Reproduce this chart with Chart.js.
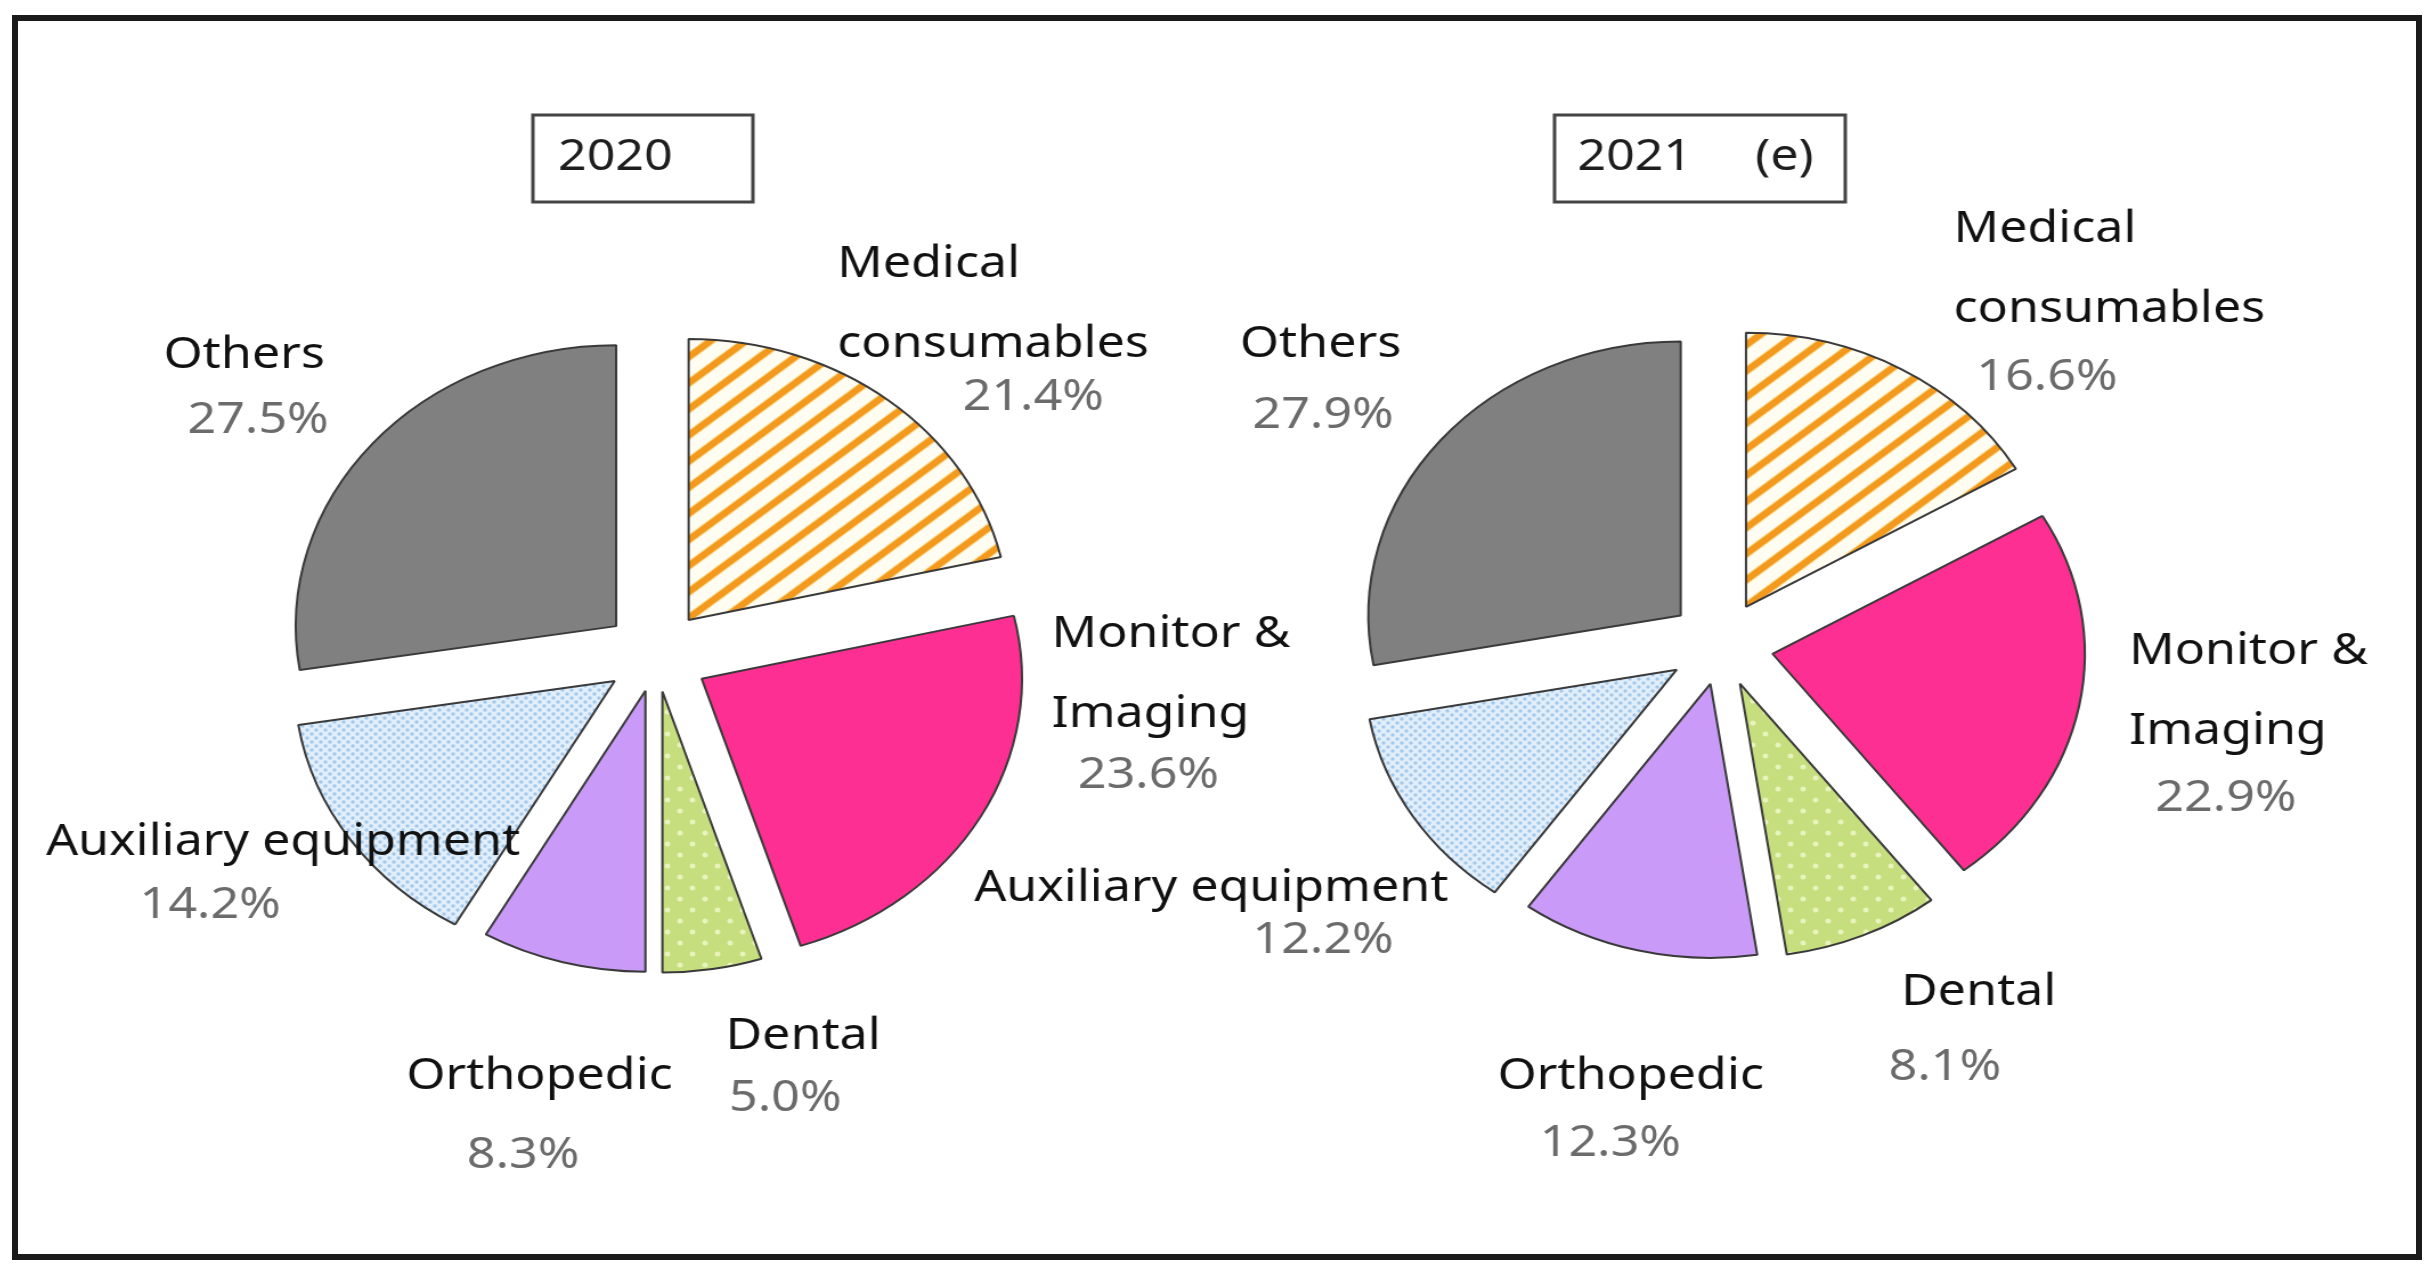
<!DOCTYPE html>
<html>
<head>
<meta charset="utf-8">
<script src="https://cdn.jsdelivr.net/npm/chart.js@4.4.0/dist/chart.umd.min.js"></script>
<style>
html, body { margin: 0; padding: 0; background: #fff; width: 2431px; height: 1267px; overflow: hidden; }
#frame { position: absolute; left: 12px; top: 15px; width: 2398px; height: 1233px; border: 6px solid #1b1b1b; }
canvas { position: absolute; transform: scaleX(1.14); transform-origin: 50% 50%; }
#pie2020 { left: 56px; top: 36px; }
#pie2021 { left: 1051px; top: 25px; }
</style>
</head>
<body>
<div id="frame"></div>
<canvas id="pie2020" width="1200" height="1240"></canvas>
<canvas id="pie2021" width="1340" height="1240"></canvas>
<script>
// data
const categories = ['Medical\nconsumables', 'Monitor &\nImaging', 'Dental', 'Orthopedic', 'Auxiliary equipment', 'Others'];
const share2020 = [21.4, 23.6, 5.0, 8.3, 14.2, 27.5];
const share2021 = [16.6, 22.9, 8.1, 12.3, 12.2, 27.9];
const title2020 = ['2020'];
const title2021 = ['2021', '(e)'];

// layout (px from pie centre, before the x stretch)
// [name x, name y, pct x, pct y]
const labelPos2020 = [[159, -392, 269, -259], [347, -22, 370, 119], [61, 380, 64, 442],
    [-219, 420, -166, 499], [-535, 186, -453, 249], [-432, -301, -411, -236]];
const labelPos2021 = [[204, -416, 224, -268], [358, 6, 381, 153], [158, 347, 147, 422],
    [-196, 431, -159, 498], [-655, 243, -411, 295], [-422, -301, -411, -230]];
const explode2020 = [46, 46, 36, 36, 44, 46];
const explode2021 = [44, 46, 42, 40, 46, 46];
// title box [x, y, w, h, text y] and text x for each word
const box2020 = [-108, -541, 193, 87, -499];
const box2021 = [-146, -530, 255, 87, -488];
const titleX2020 = [-86];
const titleX2021 = [-126, 30];

const FONT = '44px "Noto Sans"';


function makePatterns(ctx) {
    // orange stripes
    let t = document.createElement('canvas');
    t.width = 20; t.height = 20;
    let g = t.getContext('2d');
    g.fillStyle = '#fffdf2';
    g.fillRect(0, 0, 20, 20);
    g.fillStyle = '#fbd78a';
    g.fillRect(0, 6, 20, 8);
    g.fillStyle = '#f39a1e';
    g.fillRect(0, 7, 20, 6);
    const stripes = ctx.createPattern(t, 'repeat');
    stripes.setTransform(new DOMMatrix().rotate(-40));

    // pale blue speckles
    t = document.createElement('canvas');
    t.width = 8; t.height = 8;
    g = t.getContext('2d');
    g.fillStyle = '#e2effb';
    g.fillRect(0, 0, 8, 8);
    g.fillStyle = '#a3c8ea';
    [[2, 2], [6, 6]].forEach(p => { g.beginPath(); g.arc(p[0], p[1], 1.7, 0, Math.PI * 2); g.fill(); });
    const speckle = ctx.createPattern(t, 'repeat');

    // green with light dots
    t = document.createElement('canvas');
    t.width = 22; t.height = 22;
    g = t.getContext('2d');
    g.fillStyle = '#c6de7d';
    g.fillRect(0, 0, 22, 22);
    g.fillStyle = '#e8f3bd';
    [[5, 5], [16, 16]].forEach(p => { g.beginPath(); g.arc(p[0], p[1], 2.5, 0, Math.PI * 2); g.fill(); });
    const dots = ctx.createPattern(t, 'repeat');

    return [stripes, '#fd2f92', dots, '#c99af7', speckle, '#808080'];
}


function makePie(id, values, explode, labelPos, box, titleWords, titleX) {
    const canvas = document.getElementById(id);
    const ctx = canvas.getContext('2d');

    // push every slice out from the centre
    const explodePlugin = {
        id: 'explode',
        afterDatasetUpdate(chart) {
            chart.getDatasetMeta(0).data.forEach((arc, i) => {
                const mid = (arc.startAngle + arc.endAngle) / 2;
                arc.x += Math.cos(mid) * explode[i];
                arc.y += Math.sin(mid) * explode[i];
            });
        }
    };

    const labelPlugin = {
        id: 'labels',
        afterDraw(chart) {
            const c = chart.ctx;
            const a = chart.chartArea;
            const cx = (a.left + a.right) / 2;
            const cy = (a.top + a.bottom) / 2;
            c.save();
            c.font = FONT;
            c.textBaseline = 'middle';
            c.textAlign = 'left';
            values.forEach((v, i) => {
                const p = labelPos[i];
                c.fillStyle = '#111';
                categories[i].split('\n').forEach((line, k) => {
                    c.fillText(line, cx + p[0], cy + p[1] + k * 80);
                });
                c.fillStyle = '#6b6b6b';
                c.fillText(v.toFixed(1) + '%', cx + p[2], cy + p[3]);
            });
            // year box
            c.strokeStyle = '#444';
            c.lineWidth = 3;
            c.strokeRect(cx + box[0], cy + box[1], box[2], box[3]);
            c.fillStyle = '#1e1e1e';
            titleWords.forEach((w, k) => c.fillText(w, cx + titleX[k], cy + box[4]));
            c.restore();
        }
    };

    return new Chart(ctx, {
        type: 'pie',
        data: {
            labels: categories.map(s => s.replace('\n', ' ')),
            datasets: [{
                data: values,
                backgroundColor: makePatterns(ctx),
                borderColor: '#3a3a3a',
                borderWidth: 2
            }]
        },
        options: {
            responsive: false,
            animation: false,
            devicePixelRatio: 1,
            radius: id === 'pie2020' ? 281 : 274,
            layout: { padding: 0 },
            events: [],
            plugins: {
                legend: { display: false },
                tooltip: { enabled: false }
            }
        },
        plugins: [explodePlugin, labelPlugin]
    });
}

makePie('pie2020', share2020, explode2020, labelPos2020, box2020, title2020, titleX2020);
makePie('pie2021', share2021, explode2021, labelPos2021, box2021, title2021, titleX2021);
</script>
</body>
</html>
